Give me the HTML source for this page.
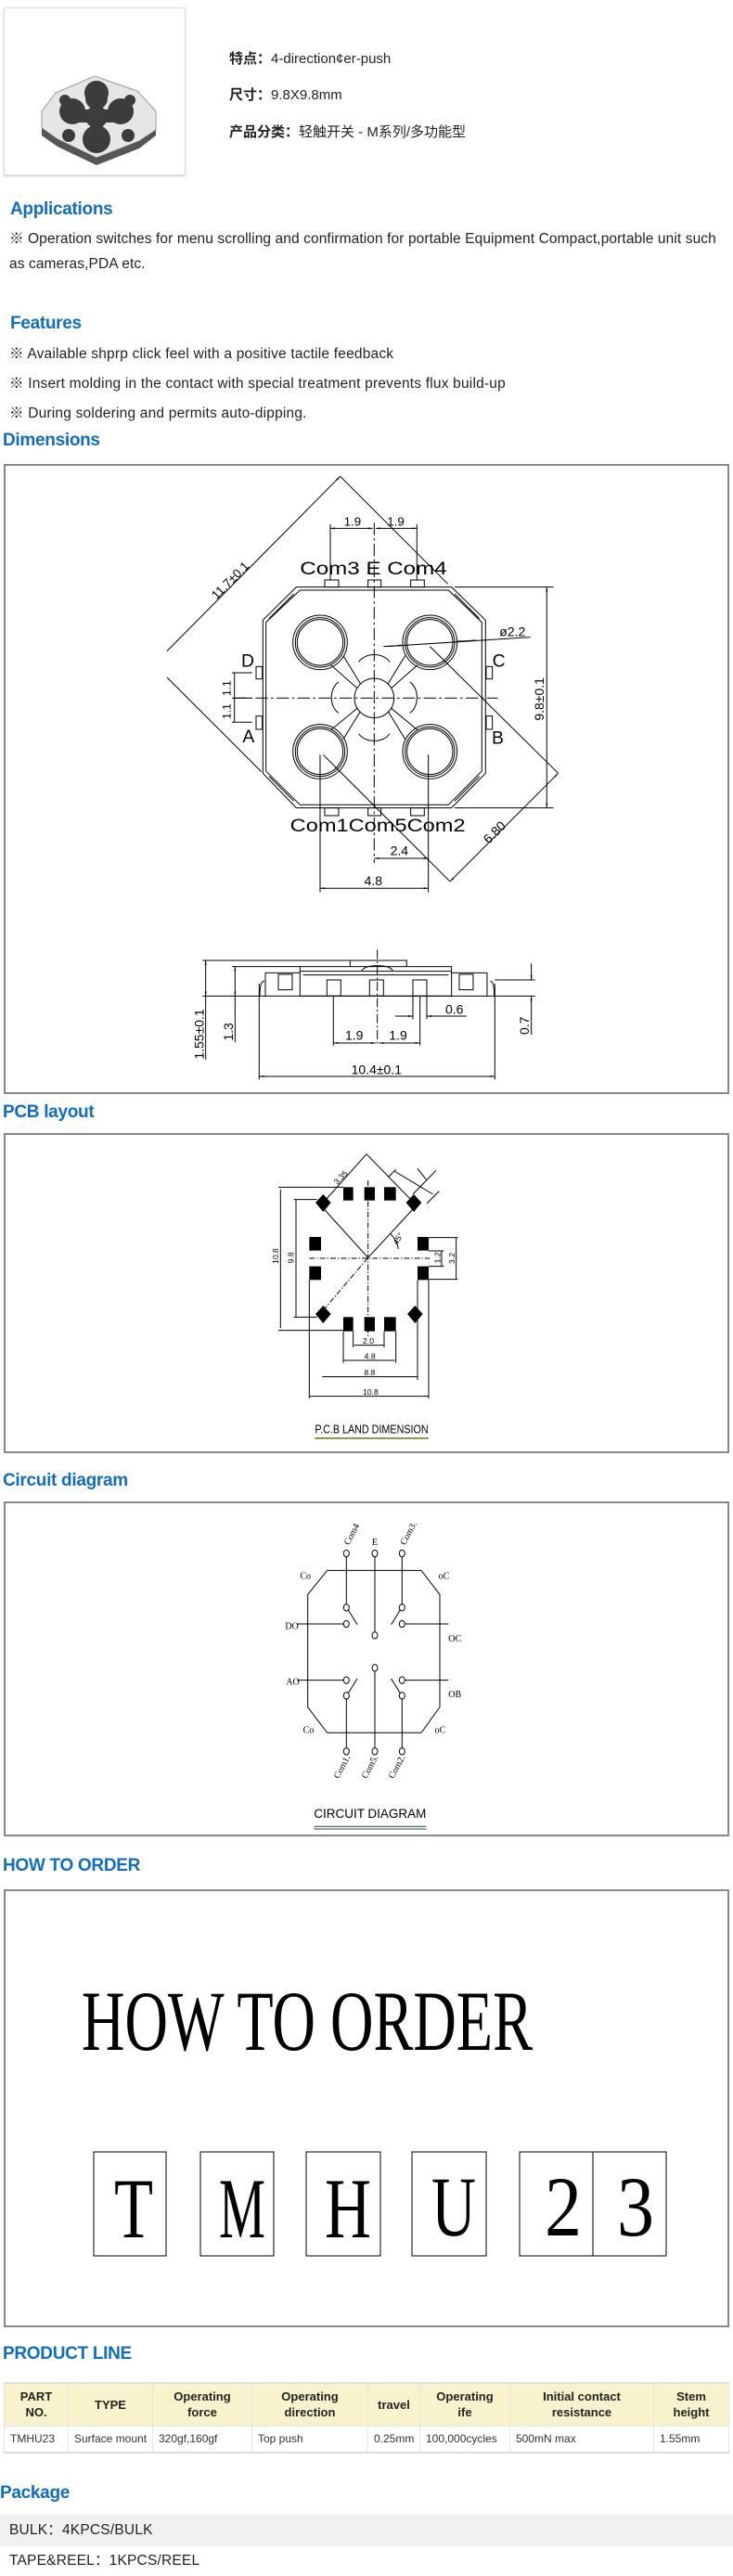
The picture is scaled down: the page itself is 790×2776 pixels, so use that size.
<!DOCTYPE html>
<html><head><meta charset="utf-8">
<style>
*{margin:0;padding:0;box-sizing:border-box}
body{width:790px;height:2776px;position:relative;background:#fff;font-family:"Liberation Sans","Noto Sans CJK SC",sans-serif;color:#222;overflow:hidden}
.a{position:absolute;white-space:nowrap}
.h{position:absolute;white-space:nowrap;font-weight:bold;color:#0f6dc2;font-size:19px;letter-spacing:-0.3px}
.t{font-size:15.5px;line-height:17px;letter-spacing:0.2px}
table{position:absolute;left:4px;top:2567px;width:782px;border-collapse:collapse;font-size:12px}
th{background:#f8f3cc;font-weight:bold;font-size:13px;line-height:17px;height:46px;border:1px solid #e4e4e4;border-top:2px solid #ddd;text-align:center}
td{height:29px;border:1px solid #e4e4e4;border-bottom:2px solid #ddd;padding-left:6px;color:#333}
</style></head><body>

<div class="a" style="left:4px;top:8px;width:196px;height:181px;border:1px solid #ddd;box-shadow:0 1px 2px #ccc"></div>
<svg class="a" style="left:0;top:0" width="210" height="200">
 <polygon points="45,120 60,100 102,82 148,98 168,120 168,140 150,152 104,170 62,150 45,138" fill="#e6e6e6" stroke="#999"/>
 <polygon points="45,138 62,150 104,170 150,152 168,140 168,146 150,160 104,178 62,158 45,146" fill="#555"/>
 <g fill="#3c3c3c"><circle cx="104" cy="106" r="12"/><circle cx="78" cy="120" r="14"/><circle cx="130" cy="120" r="14"/><circle cx="104" cy="100" r="13"/><circle cx="104" cy="150" r="15"/><circle cx="104" cy="126" r="12"/>
 <rect x="82" y="118" width="44" height="14"/><rect x="97" y="100" width="14" height="48"/>
 <circle cx="70" cy="108" r="6"/><circle cx="140" cy="108" r="6"/><circle cx="74" cy="146" r="7"/><circle cx="138" cy="146" r="7"/></g>
</svg>

<div class="a" style="left:247px;top:55px;font-size:15px;line-height:17px"><b>特点：</b>4-direction¢er-push</div>
<div class="a" style="left:247px;top:94px;font-size:15px;line-height:17px"><b>尺寸：</b>9.8X9.8mm</div>
<div class="a" style="left:247px;top:134px;font-size:15px;line-height:17px"><b>产品分类：</b>轻触开关 - M系列/多功能型</div>

<div class="h" style="left:11px;top:215px">Applications</div>
<div class="a t" style="left:10px;top:249px;letter-spacing:0.1px">※ Operation switches for menu scrolling and confirmation for portable Equipment Compact,portable unit such</div>
<div class="a t" style="left:10px;top:276px;letter-spacing:0.1px">as cameras,PDA etc.</div>

<div class="h" style="left:11px;top:338px">Features</div>
<div class="a t" style="left:10px;top:373px">※ Available shprp click feel with a positive tactile feedback</div>
<div class="a t" style="left:10px;top:405px">※ Insert molding in the contact with special treatment prevents flux build-up</div>
<div class="a t" style="left:10px;top:437px">※ During soldering and permits auto-dipping.</div>

<div class="h" style="left:3px;top:464px">Dimensions</div>
<div class="h" style="left:3px;top:1188px">PCB layout</div>
<div class="h" style="left:3px;top:1585px">Circuit diagram</div>
<div class="h" style="left:3px;top:2000px">HOW TO ORDER</div>
<div class="h" style="left:3px;top:2526px">PRODUCT LINE</div>
<div class="h" style="left:0px;top:2676px">Package</div>

<svg class="a" style="left:0;top:0" width="790" height="2776" font-family="Liberation Sans, sans-serif">
<defs>
 <marker id="ar" viewBox="0 0 10 4" refX="10" refY="2" markerWidth="5" markerHeight="2.4" orient="auto-start-reverse" markerUnits="strokeWidth"><path d="M0,0 L10,2 L0,4z" fill="#000"/></marker>
</defs>
<g fill="none" stroke="#888" stroke-width="2">
 <rect x="5" y="501" width="780" height="677"/>
 <rect x="5" y="1222" width="780" height="343"/>
 <rect x="5" y="1619" width="780" height="359"/>
 <rect x="5" y="2037" width="780" height="470"/>
</g>

<!-- TOP VIEW -->
<g transform="translate(180,500) scale(0.3333)" stroke="#000" stroke-width="3" fill="none">
 <polygon points="418,398 920,398 1030,505 1030,1000 920,1112 418,1112 310,1000 310,505"/>
 <polygon points="430,408 910,408 1018,512 1018,993 910,1102 430,1102 320,993 320,512"/>
 <line x1="330" y1="500" x2="410" y2="420"/><line x1="930" y1="420" x2="1010" y2="500"/><line x1="330" y1="1010" x2="410" y2="1090"/><line x1="930" y1="1090" x2="1010" y2="1010"/>
 <rect x="510" y="375" width="45" height="23"/><rect x="650" y="375" width="42" height="23"/><rect x="788" y="375" width="44" height="23"/>
 <rect x="510" y="1112" width="45" height="25"/><rect x="650" y="1112" width="42" height="25"/><rect x="788" y="1112" width="44" height="25"/>
 <rect x="288" y="655" width="20" height="40"/><rect x="288" y="815" width="20" height="43"/><rect x="1032" y="655" width="20" height="40"/><rect x="1032" y="815" width="20" height="43"/>
 <g>
  <circle cx="495" cy="577" r="88"/><circle cx="495" cy="577" r="80"/><circle cx="495" cy="577" r="74"/>
  <circle cx="850" cy="577" r="88"/><circle cx="850" cy="577" r="80"/><circle cx="850" cy="577" r="74"/>
  <circle cx="495" cy="930" r="88"/><circle cx="495" cy="930" r="80"/><circle cx="495" cy="930" r="74"/>
  <circle cx="850" cy="930" r="88"/><circle cx="850" cy="930" r="80"/><circle cx="850" cy="930" r="74"/>
  <circle cx="670" cy="757" r="64"/>
  <path d="M620,640 A55,40 0 0 1 720,640"/><path d="M620,872 A55,40 0 0 0 720,872"/><path d="M555,705 A40,55 0 0 0 555,805"/><path d="M785,705 A40,55 0 0 1 785,805"/>
  <line x1="570" y1="620" x2="625" y2="710"/><line x1="530" y1="650" x2="615" y2="725"/><line x1="770" y1="620" x2="715" y2="710"/><line x1="810" y1="650" x2="725" y2="725"/>
  <line x1="570" y1="890" x2="625" y2="800"/><line x1="530" y1="860" x2="615" y2="790"/><line x1="770" y1="890" x2="715" y2="800"/><line x1="810" y1="860" x2="725" y2="790"/>
 </g>
 <line x1="218" y1="757" x2="1070" y2="757" stroke-dasharray="40,10,8,10"/>
 <line x1="670" y1="190" x2="670" y2="1290" stroke-dasharray="40,10,8,10"/>
 <line x1="0" y1="605" x2="560" y2="40" marker-end="url(#ar)"/>
 <line x1="560" y1="40" x2="908" y2="388"/><line x1="0" y1="690" x2="305" y2="995"/>
 <line x1="915" y1="1350" x2="1265" y2="1000" marker-start="url(#ar)" marker-end="url(#ar)"/>
 <line x1="850" y1="590" x2="1265" y2="1000"/><line x1="505" y1="940" x2="915" y2="1350"/>
 <line x1="1228" y1="398" x2="1228" y2="1112" marker-start="url(#ar)" marker-end="url(#ar)"/>
 <line x1="930" y1="398" x2="1250" y2="398"/><line x1="930" y1="1112" x2="1250" y2="1112"/>
 <line x1="528" y1="208" x2="665" y2="208" marker-start="url(#ar)" marker-end="url(#ar)"/>
 <line x1="675" y1="208" x2="808" y2="208" marker-start="url(#ar)" marker-end="url(#ar)"/>
 <line x1="528" y1="195" x2="528" y2="375"/><line x1="808" y1="195" x2="808" y2="375"/>
 <line x1="710" y1="590" x2="1175" y2="560"/>
 <line x1="700" y1="590" x2="765" y2="586" marker-end="url(#ar)"/>
 <line x1="1000" y1="570" x2="935" y2="574" marker-end="url(#ar)"/>
 <line x1="218" y1="675" x2="218" y2="835"/><line x1="210" y1="675" x2="275" y2="675"/><line x1="210" y1="835" x2="275" y2="835"/><line x1="210" y1="757" x2="275" y2="757"/>
 <line x1="670" y1="1275" x2="845" y2="1275" marker-start="url(#ar)" marker-end="url(#ar)"/>
 <line x1="845" y1="940" x2="845" y2="1385"/><line x1="495" y1="940" x2="495" y2="1385"/>
 <line x1="495" y1="1372" x2="845" y2="1372" marker-start="url(#ar)" marker-end="url(#ar)"/>
 <g fill="#000" stroke="none" font-size="58">
  <text x="430" y="357" textLength="475" lengthAdjust="spacingAndGlyphs">Com3 E Com4</text>
  <text x="398" y="1188" textLength="567" lengthAdjust="spacingAndGlyphs">Com1Com5Com2</text>
  <text x="240" y="655">D</text><text x="244" y="900">A</text><text x="1052" y="655">C</text><text x="1050" y="905">B</text>
  <text x="572" y="200" font-size="40">1.9</text><text x="712" y="200" font-size="40">1.9</text>
  <text x="1075" y="557" font-size="42">ø2.2</text>
  <text x="722" y="1265" font-size="42">2.4</text><text x="638" y="1362" font-size="42">4.8</text>
  <text transform="translate(160,440) rotate(-45)" font-size="40">11.7±0.1</text>
  <text transform="translate(1040,1230) rotate(-45)" font-size="42">6.80</text>
  <text transform="translate(1218,830) rotate(-90)" font-size="42">9.8±0.1</text>
  <text transform="translate(205,750) rotate(-90)" font-size="36">1.1</text>
  <text transform="translate(205,825) rotate(-90)" font-size="36">1.1</text>
 </g>
</g>

<!-- SIDE VIEW -->
<g transform="translate(180,980) scale(0.3333)" stroke="#000" stroke-width="3" fill="none">
 <line x1="115" y1="280" x2="1190" y2="280"/>
 <rect x="430" y="185" width="490" height="95"/>
 <line x1="430" y1="200" x2="920" y2="200"/><line x1="440" y1="212" x2="910" y2="212"/>
 <path d="M592,185 L592,165 L775,165 L775,185"/><path d="M630,198 Q640,182 680,182 Q720,182 730,198"/>
 <path d="M318,280 L318,205 L430,205"/><path d="M920,205 L1035,205 L1035,280"/>
 <rect x="360" y="210" width="45" height="50"/><rect x="945" y="210" width="45" height="50"/>
 <path d="M300,280 Q300,230 315,232"/><path d="M1058,280 Q1058,230 1045,232"/>
 <rect x="517" y="228" width="45" height="52"/><rect x="655" y="228" width="45" height="52"/><rect x="795" y="228" width="45" height="52"/>
 <line x1="680" y1="130" x2="680" y2="440" stroke-dasharray="30,8,6,8"/>
 <line x1="125" y1="165" x2="125" y2="280" marker-start="url(#ar)" marker-end="url(#ar)"/><line x1="115" y1="165" x2="590" y2="165"/>
 <line x1="220" y1="185" x2="220" y2="280" marker-start="url(#ar)" marker-end="url(#ar)"/><line x1="210" y1="185" x2="430" y2="185"/><line x1="220" y1="280" x2="220" y2="430"/><line x1="125" y1="280" x2="125" y2="485"/>
 <line x1="1178" y1="175" x2="1178" y2="228" marker-end="url(#ar)"/><line x1="1178" y1="280" x2="1178" y2="405" marker-start="url(#ar)"/><line x1="1060" y1="228" x2="1190" y2="228"/>
 <line x1="298" y1="540" x2="1060" y2="540" marker-start="url(#ar)" marker-end="url(#ar)"/><line x1="298" y1="240" x2="298" y2="550"/><line x1="1060" y1="240" x2="1060" y2="550"/>
 <line x1="538" y1="432" x2="675" y2="432" marker-start="url(#ar)" marker-end="url(#ar)"/><line x1="685" y1="432" x2="818" y2="432" marker-start="url(#ar)" marker-end="url(#ar)"/>
 <line x1="538" y1="280" x2="538" y2="440"/><line x1="818" y1="280" x2="818" y2="440"/>
 <line x1="738" y1="345" x2="795" y2="345" marker-end="url(#ar)"/><line x1="968" y1="345" x2="840" y2="345" marker-end="url(#ar)"/>
 <line x1="795" y1="280" x2="795" y2="355"/><line x1="840" y1="280" x2="840" y2="355"/>
 <g fill="#000" stroke="none" font-size="42">
  <text x="576" y="422">1.9</text><text x="718" y="422">1.9</text><text x="900" y="337">0.6</text>
  <text x="596" y="532">10.4±0.1</text>
  <text transform="translate(118,485) rotate(-90)">1.55±0.1</text>
  <text transform="translate(213,425) rotate(-90)">1.3</text>
  <text transform="translate(1170,405) rotate(-90)">0.7</text>
 </g>
</g>

<!-- PCB -->
<g transform="translate(260,1222) scale(0.3333)" stroke="#000" stroke-width="3" fill="none">
 <g fill="#000" stroke="none">
  <rect x="330" y="172" width="32" height="43"/><rect x="398" y="172" width="34" height="43"/><rect x="462" y="172" width="38" height="43"/>
  <rect x="330" y="592" width="32" height="46"/><rect x="398" y="592" width="34" height="46"/><rect x="462" y="592" width="38" height="46"/>
  <rect x="220" y="333" width="38" height="44"/><rect x="220" y="428" width="38" height="44"/><rect x="570" y="333" width="36" height="44"/><rect x="570" y="428" width="36" height="44"/>
  <polygon points="265,195 290,222 265,252 240,222"/><polygon points="558,195 583,222 558,252 533,222"/>
  <polygon points="265,555 290,582 265,612 240,582"/><polygon points="562,555 587,582 562,612 537,582"/>
 </g>
 <line x1="405" y1="65" x2="265" y2="222"/><line x1="405" y1="65" x2="558" y2="222"/>
 <line x1="265" y1="240" x2="410" y2="400"/><line x1="410" y1="400" x2="558" y2="240"/>
 <line x1="265" y1="570" x2="410" y2="400" stroke-dasharray="18,6,4,6"/>
 <line x1="220" y1="402" x2="610" y2="402" stroke-dasharray="18,6,4,6"/>
 <line x1="410" y1="150" x2="410" y2="660" stroke-dasharray="18,6,4,6"/>
 <line x1="475" y1="140" x2="500" y2="115"/><line x1="555" y1="195" x2="630" y2="118"/><line x1="600" y1="225" x2="640" y2="185"/><line x1="495" y1="120" x2="620" y2="195"/><line x1="570" y1="112" x2="600" y2="150"/>
 <line x1="127" y1="180" x2="127" y2="628"/><line x1="120" y1="172" x2="330" y2="172"/><line x1="120" y1="635" x2="330" y2="635"/>
 <line x1="177" y1="212" x2="177" y2="592"/><line x1="170" y1="212" x2="245" y2="212"/><line x1="170" y1="592" x2="245" y2="592"/>
 <line x1="695" y1="335" x2="695" y2="470"/><line x1="606" y1="335" x2="700" y2="335"/><line x1="606" y1="470" x2="700" y2="470"/>
 <line x1="648" y1="378" x2="648" y2="428"/><line x1="606" y1="378" x2="655" y2="378"/><line x1="606" y1="428" x2="655" y2="428"/>
 <line x1="365" y1="683" x2="462" y2="683"/><line x1="330" y1="732" x2="497" y2="732"/><line x1="262" y1="785" x2="570" y2="785"/><line x1="222" y1="848" x2="605" y2="848"/>
 <line x1="362" y1="638" x2="362" y2="690"/><line x1="462" y1="638" x2="462" y2="690"/><line x1="330" y1="638" x2="330" y2="740"/><line x1="500" y1="638" x2="500" y2="740"/>
 <line x1="570" y1="472" x2="570" y2="795"/><line x1="220" y1="472" x2="220" y2="855"/><line x1="606" y1="472" x2="606" y2="855"/>
 <path d="M482,322 Q505,345 508,372"/>
 <g fill="#000" stroke="none" font-size="26">
  <text x="393" y="678">2.0</text><text x="398" y="728">4.8</text><text x="397" y="780">8.8</text><text x="393" y="843">10.8</text>
  <text transform="translate(120,420) rotate(-90)">10.8</text><text transform="translate(170,418) rotate(-90)">9.8</text>
  <text transform="translate(690,420) rotate(-90)">3.2</text><text transform="translate(643,418) rotate(-90)">1.2</text>
  <text transform="translate(310,165) rotate(-45)">3.35</text><text transform="translate(505,360) rotate(-60)">45°</text>
  <text x="238" y="968" font-size="40" textLength="367" lengthAdjust="spacingAndGlyphs">P.C.B LAND DIMENSION</text>
 </g>
 <line x1="238" y1="984" x2="605" y2="984" stroke="#6a8a1a" stroke-width="5"/>
</g>

<!-- CIRCUIT -->
<g transform="translate(270,1619) scale(0.3333)" stroke="#000" stroke-width="3" fill="none">
 <polygon points="248,220 552,220 612,298 612,662 552,745 248,745 185,662 185,298"/>
 <g fill="#fff">
  <ellipse cx="310" cy="165" rx="9" ry="11"/><ellipse cx="402" cy="165" rx="9" ry="11"/><ellipse cx="490" cy="165" rx="9" ry="11"/>
  <ellipse cx="310" cy="340" rx="9" ry="11"/><ellipse cx="310" cy="393" rx="9" ry="11"/><ellipse cx="490" cy="340" rx="9" ry="11"/><ellipse cx="490" cy="393" rx="9" ry="11"/>
  <ellipse cx="402" cy="430" rx="9" ry="11"/><ellipse cx="402" cy="535" rx="9" ry="11"/>
  <ellipse cx="310" cy="575" rx="9" ry="11"/><ellipse cx="310" cy="625" rx="9" ry="11"/><ellipse cx="490" cy="575" rx="9" ry="11"/><ellipse cx="490" cy="625" rx="9" ry="11"/>
  <ellipse cx="310" cy="805" rx="9" ry="11"/><ellipse cx="402" cy="805" rx="9" ry="11"/><ellipse cx="490" cy="805" rx="9" ry="11"/>
 </g>
 <line x1="310" y1="176" x2="310" y2="329"/><line x1="402" y1="176" x2="402" y2="419"/><line x1="490" y1="176" x2="490" y2="329"/>
 <line x1="316" y1="348" x2="345" y2="395"/><line x1="484" y1="348" x2="455" y2="395"/>
 <line x1="150" y1="393" x2="301" y2="393"/><line x1="499" y1="393" x2="640" y2="393"/>
 <line x1="150" y1="575" x2="301" y2="575"/><line x1="499" y1="575" x2="640" y2="575"/>
 <line x1="316" y1="617" x2="345" y2="570"/><line x1="484" y1="617" x2="455" y2="570"/>
 <line x1="310" y1="636" x2="310" y2="794"/><line x1="402" y1="546" x2="402" y2="794"/><line x1="490" y1="636" x2="490" y2="794"/>
 <g fill="#000" stroke="none" font-family="Liberation Serif, serif" font-size="30">
  <text transform="translate(318,140) rotate(-62)">Com4</text>
  <text x="393" y="138">E</text>
  <text transform="translate(500,140) rotate(-62)">Com3.</text>
  <text x="160" y="248">Co</text><text x="608" y="248">oC</text>
  <text x="112" y="410">DO</text><text x="640" y="450">OC</text>
  <text x="115" y="590">AO</text><text x="640" y="630">OB</text>
  <text x="170" y="745">Co</text><text x="596" y="745">oC</text>
  <text transform="translate(285,895) rotate(-62)">Com1.</text>
  <text transform="translate(375,895) rotate(-62)">Com5.</text>
  <text transform="translate(462,895) rotate(-62)">Com2.</text>
  <text x="205" y="1020" font-family="Liberation Sans, sans-serif" font-size="42" textLength="363" lengthAdjust="spacingAndGlyphs">CIRCUIT DIAGRAM</text>
 </g>
 <line x1="205" y1="1048" x2="568" y2="1048" stroke="#1f4f3a"/><line x1="205" y1="1056" x2="568" y2="1056" stroke="#1f4f3a"/>
</g>

<!-- HOW TO ORDER -->
<g font-family="Liberation Serif, serif" fill="#000">
 <text x="88" y="2209" font-size="92" textLength="486" lengthAdjust="spacingAndGlyphs">HOW TO ORDER</text>
 <g fill="none" stroke="#000" stroke-width="1">
  <rect x="101" y="2319" width="78" height="112"/><rect x="216" y="2319" width="79" height="112"/><rect x="330" y="2319" width="80" height="112"/>
  <rect x="444" y="2319" width="80" height="112"/><rect x="560" y="2319" width="79" height="112"/><rect x="639" y="2319" width="79" height="112"/>
 </g>
 <g font-size="92" text-anchor="middle">
  <text x="144" y="2411" textLength="42" lengthAdjust="spacingAndGlyphs">T</text>
  <text x="261" y="2411" textLength="50" lengthAdjust="spacingAndGlyphs">M</text>
  <text x="375" y="2411" textLength="50" lengthAdjust="spacingAndGlyphs">H</text>
  <text x="489" y="2409" textLength="48" lengthAdjust="spacingAndGlyphs">U</text>
  <text x="607" y="2409" textLength="40" lengthAdjust="spacingAndGlyphs">2</text>
  <text x="685" y="2409" textLength="40" lengthAdjust="spacingAndGlyphs">3</text>
 </g>
</g>
</svg>

<table>
<tr><th style="width:69px">PART<br>NO.</th><th style="width:91px">TYPE</th><th style="width:107px">Operating<br>force</th><th style="width:125px">Operating<br>direction</th><th style="width:56px">travel</th><th style="width:97px">Operating<br>ife</th><th style="width:155px">Initial contact<br>resistance</th><th>Stem<br>height</th></tr>
<tr><td>TMHU23</td><td>Surface mount</td><td>320gf,160gf</td><td>Top push</td><td>0.25mm</td><td>100,000cycles</td><td>500mN max</td><td>1.55mm</td></tr>
</table>

<div class="a" style="left:0;top:2710px;width:790px;height:34px;background:#f1f1f1"></div>
<div class="a t" style="left:10px;top:2718px">BULK：4KPCS/BULK</div>
<div class="a t" style="left:10px;top:2751px">TAPE&amp;REEL：1KPCS/REEL</div>
</body></html>
